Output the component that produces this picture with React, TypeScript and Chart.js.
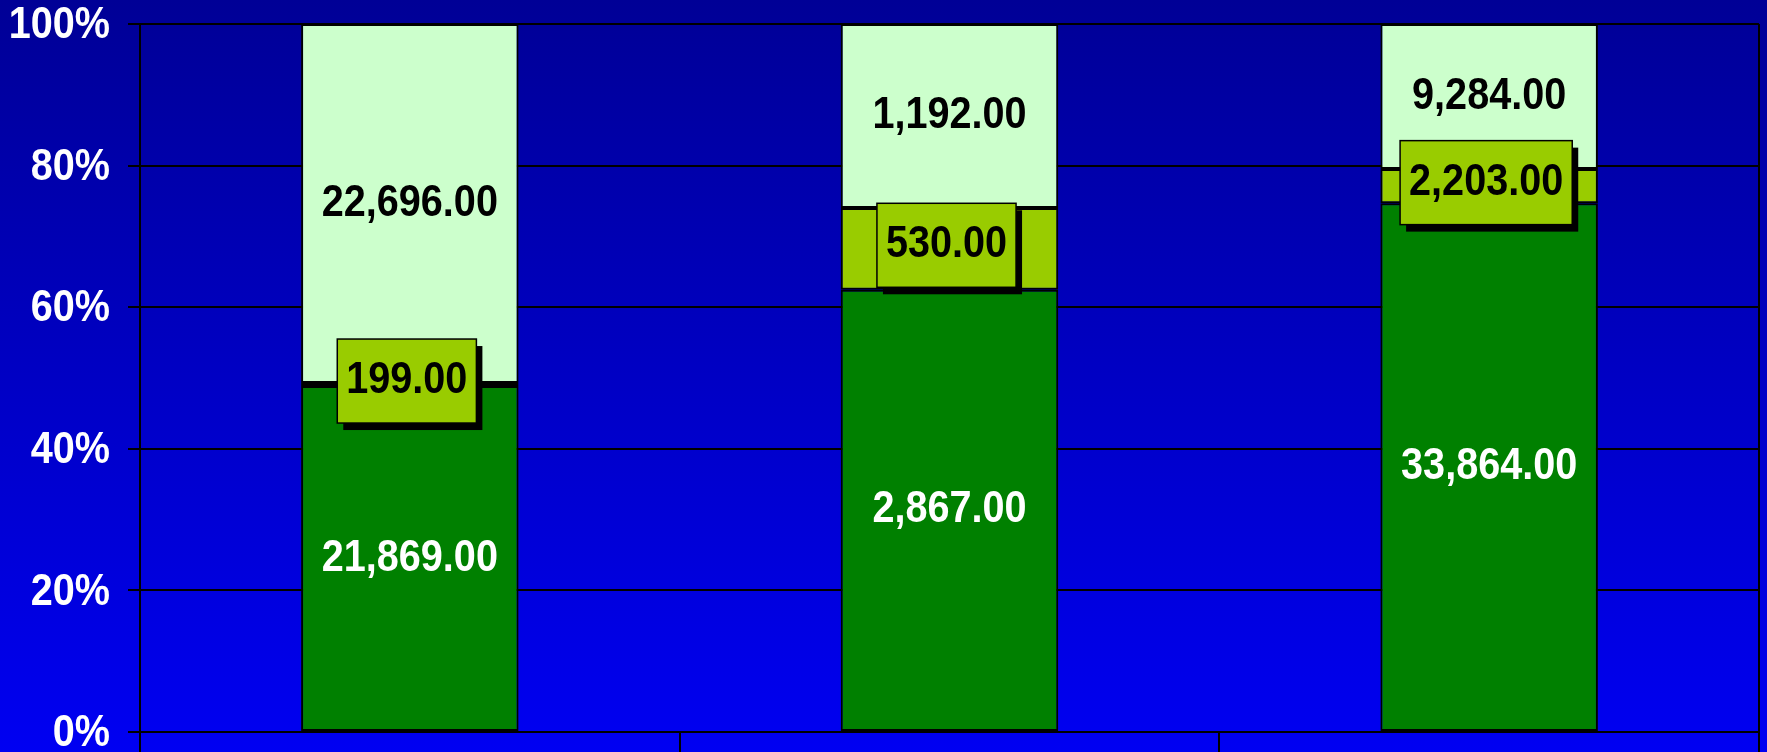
import React, { useEffect, useRef } from 'react';
import { Chart, registerables } from 'chart.js';

Chart.register(...registerables);

const categories = ['Group 1', 'Group 2', 'Group 3'];
const seriesNames = ['Series A', 'Series B', 'Series C'];
const seriesA = [21869, 2867, 33864];
const seriesB = [199, 530, 2203];
const seriesC = [22696, 1192, 9284];
const seriesColors = ['#008000', '#99CC00', '#CCFFCC'];
const yTickStep = 20;

const FONT = '"Liberation Sans", Arial, Helvetica, sans-serif';
const SX = 0.9;

const fmt = (v: number) =>
  v.toLocaleString('en-US', { minimumFractionDigits: 2, maximumFractionDigits: 2 });

function drawScaled(ctx: CanvasRenderingContext2D, text: string, x: number, y: number) {
  ctx.save();
  ctx.translate(x, y);
  ctx.scale(SX, 1);
  ctx.fillText(text, 0, 0);
  ctx.restore();
}

const rawSeries = [seriesA, seriesB, seriesC];
const totals = categories.map((_, i) => rawSeries.reduce((s, arr) => s + arr[i], 0));
const pctSeries = rawSeries.map((arr) => arr.map((v, i) => (v / totals[i]) * 100));

const overlayPlugin = {
  id: 'overlay',
  afterDatasetsDraw(chart: any) {
    const ctx: CanvasRenderingContext2D = chart.ctx;
    ctx.save();
    ctx.font = `bold 44px ${FONT}`;
    ctx.textBaseline = 'middle';
    ctx.textAlign = 'center';
    rawSeries.forEach((arr, di) => {
      const meta = chart.getDatasetMeta(di);
      meta.data.forEach((el: any, i: number) => {
        const { x, y, base } = el.getProps(['x', 'y', 'base'], true);
        const mid = (y + base) / 2;
        const text = fmt(arr[i]);
        if (di === 1) {
          const tw = ctx.measureText(text).width * SX;
          const bw = tw + 18;
          const bh = 84;
          const cx = x - 3;
          const cy = mid - 3.5;
          ctx.fillStyle = '#000';
          ctx.fillRect(cx - bw / 2 + 6, cy - bh / 2 + 7, bw, bh);
          ctx.fillStyle = '#99CC00';
          ctx.fillRect(cx - bw / 2, cy - bh / 2, bw, bh);
          ctx.strokeStyle = '#000';
          ctx.lineWidth = 1.5;
          ctx.strokeRect(cx - bw / 2, cy - bh / 2, bw, bh);
          ctx.fillStyle = '#000';
          drawScaled(ctx, text, cx, cy);
        } else {
          ctx.fillStyle = di === 0 ? '#FFFFFF' : '#000000';
          drawScaled(ctx, text, x, mid);
        }
      });
    });
    ctx.restore();
  },
  afterDraw(chart: any) {
    const ctx: CanvasRenderingContext2D = chart.ctx;
    const area = chart.chartArea;
    const yScale = chart.scales.y;
    ctx.save();
    ctx.strokeStyle = '#000';
    ctx.lineWidth = 2;
    ctx.beginPath();
    ctx.moveTo(area.right, area.top);
    ctx.lineTo(area.right, area.bottom);
    ctx.stroke();
    ctx.font = `bold 44px ${FONT}`;
    ctx.fillStyle = '#FFFFFF';
    ctx.textAlign = 'right';
    ctx.textBaseline = 'middle';
    yScale.ticks.forEach((t: any) => {
      const py = yScale.getPixelForValue(t.value);
      drawScaled(ctx, `${t.value}%`, area.left - 30, py + 2);
    });
    ctx.restore();
  },
};

export default function App() {
  const canvasRef = useRef<HTMLCanvasElement | null>(null);

  useEffect(() => {
    if (!canvasRef.current) return;
    const chart = new Chart(canvasRef.current, {
      type: 'bar',
      data: {
        labels: categories,
        datasets: pctSeries.map((data, i) => ({
          label: seriesNames[i],
          data,
          backgroundColor: seriesColors[i],
          borderColor: '#000000',
          borderWidth: 2,
          borderSkipped: false,
          barPercentage: 0.403,
          categoryPercentage: 1,
        })),
      },
      options: {
        animation: false,
        responsive: false,
        maintainAspectRatio: false,
        devicePixelRatio: 1,
        layout: { padding: { top: 24, right: 8, left: 0, bottom: 0 } },
        plugins: {
          legend: { display: false },
          tooltip: { enabled: false },
        },
        scales: {
          x: {
            stacked: true,
            offset: true,
            grid: {
              offset: true,
              drawOnChartArea: false,
              drawTicks: true,
              tickLength: 20,
              color: '#000000',
              tickColor: '#000000',
              lineWidth: 2,
            },
            border: { display: true, color: '#000000', width: 2 },
            ticks: { display: false },
            afterFit: (scale: any) => {
              scale.height = 20;
            },
          },
          y: {
            stacked: true,
            min: 0,
            max: 100,
            grid: {
              color: '#000000',
              tickColor: '#000000',
              lineWidth: 2,
              tickLength: 12,
            },
            border: { display: true, color: '#000000', width: 2 },
            ticks: {
              stepSize: yTickStep,
              color: 'rgba(0,0,0,0)',
              font: { size: 10 },
              callback: (v: any) => `${v}%`,
            },
            afterFit: (scale: any) => {
              scale.width = 140;
            },
          },
        },
      },
      plugins: [overlayPlugin],
    });
    return () => chart.destroy();
  }, []);

  return (
    <div
      style={{
        position: 'absolute',
        left: 0,
        top: 0,
        width: 1767,
        height: 752,
        background: 'linear-gradient(to bottom, #000096, #0000F2)',
      }}
    >
      <canvas ref={canvasRef} width={1767} height={752} style={{ display: 'block' }} />
    </div>
  );
}
